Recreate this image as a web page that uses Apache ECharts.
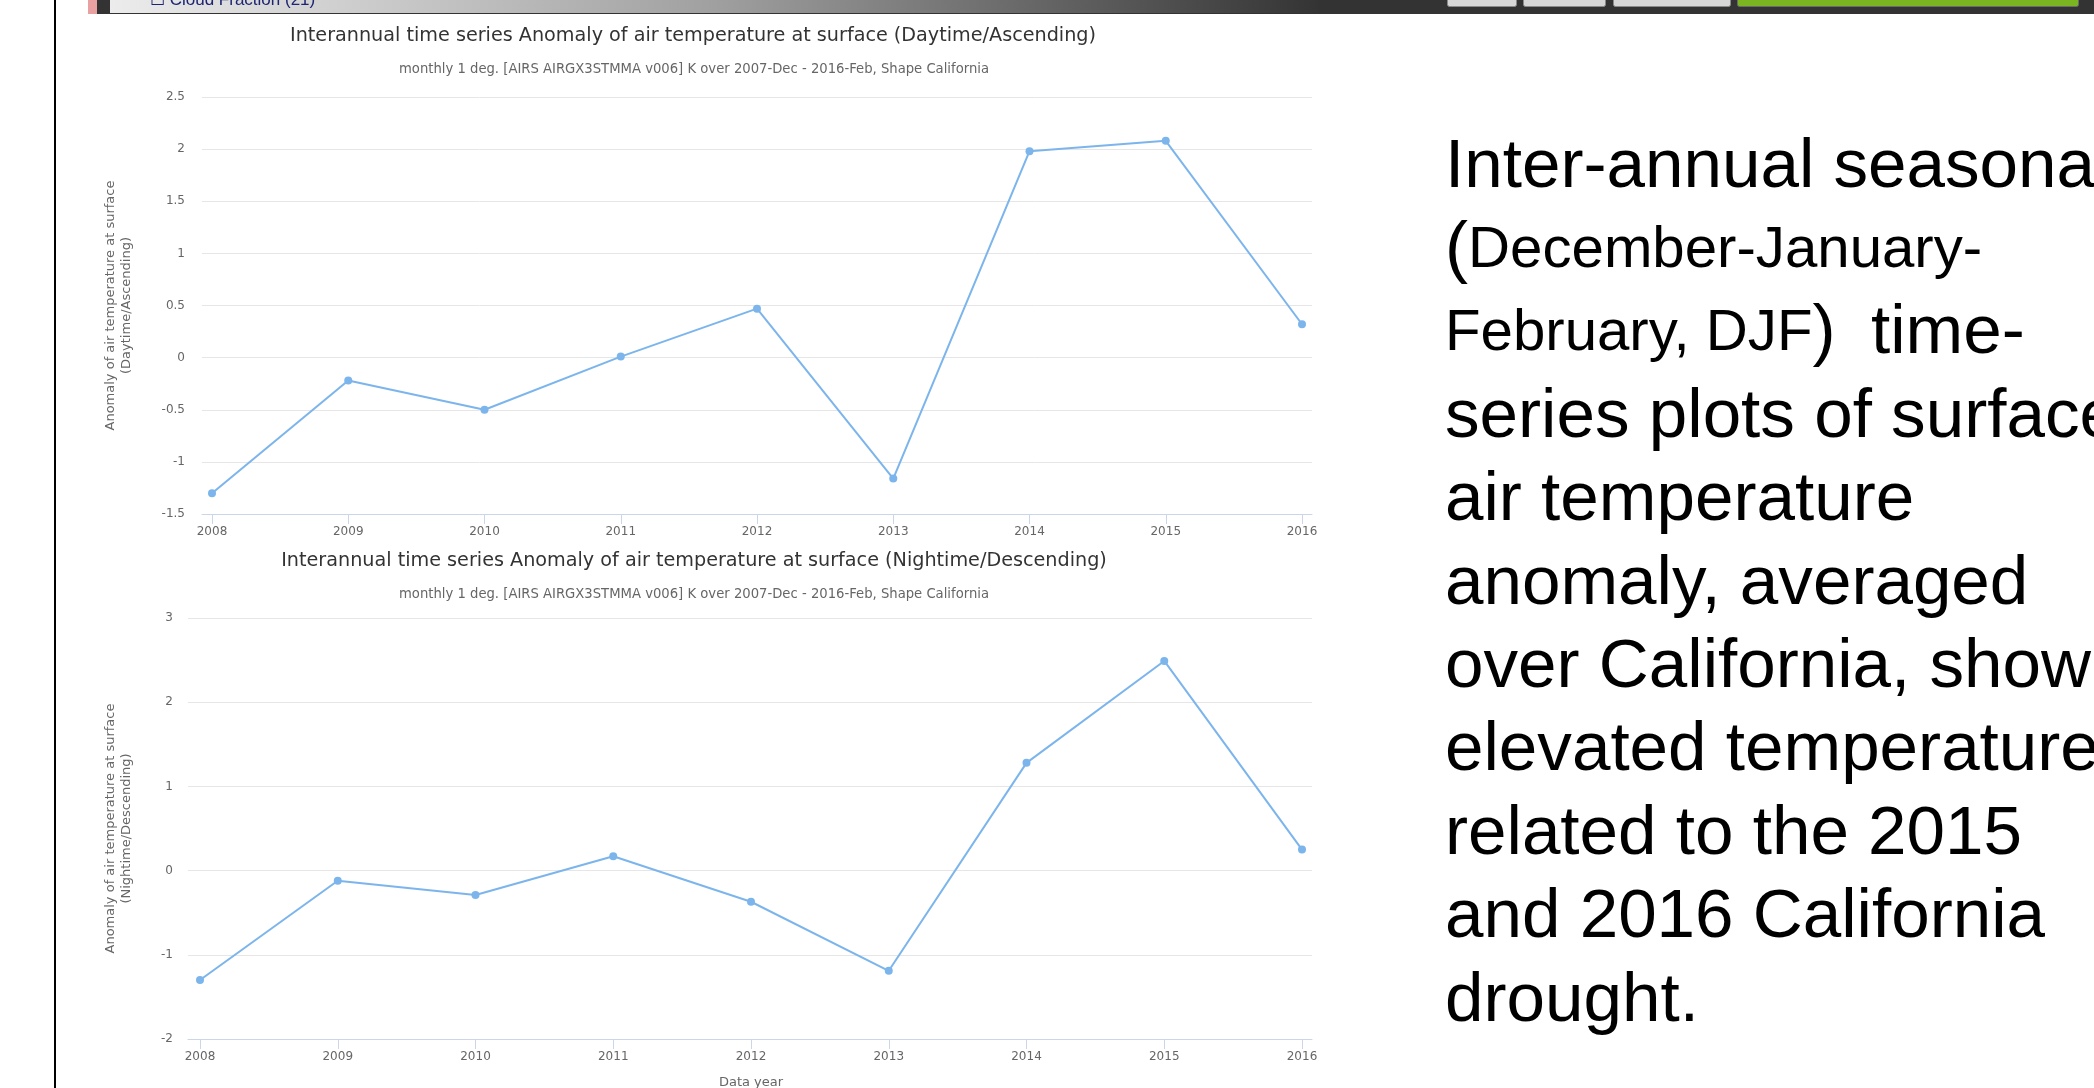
<!DOCTYPE html>
<html>
<head>
<meta charset="utf-8">
<script src="https://cdn.jsdelivr.net/npm/echarts@6/dist/echarts.min.js"></script>
<style>
html,body{margin:0;padding:0;background:#fff;}
#chart{width:2094px;height:1088px;}
</style>
</head>
<body>
<div id="chart"></div>
<script>
// ---- data ----
const years = ['2008','2009','2010','2011','2012','2013','2014','2015','2016'];
const dayAnomaly = [-1.30, -0.22, -0.50, 0.01, 0.47, -1.16, 1.98, 2.08, 0.32];
const nightAnomaly = [-1.30, -0.12, -0.29, 0.17, -0.37, -1.19, 1.28, 2.49, 0.25];
const dayTitle = 'Interannual time series Anomaly of air temperature at surface (Daytime/Ascending)';
const nightTitle = 'Interannual time series Anomaly of air temperature at surface (Nightime/Descending)';
const subTitle = 'monthly 1 deg. [AIRS AIRGX3STMMA v006] K over 2007-Dec - 2016-Feb, Shape California';
const dayAxisName = 'Anomaly of air temperature at surface\n(Daytime/Ascending)';
const nightAxisName = 'Anomaly of air temperature at surface\n(Nightime/Descending)';
const xAxisName = 'Data year';
const headerLabel = '\u2610 Cloud Fraction (21)';
const captionLines = [
  '{b|Inter-annual seasonal}',
  '{b|(}{s|December-January-}',
  '{s|February, DJF}{b|) }{s| }{b|time-}',
  '{b|series plots of surface}',
  '{b|air temperature}',
  '{b|anomaly, averaged}',
  '{b|over California, showing}',
  '{b|elevated temperatures}',
  '{b|related to the 2015}',
  '{b|and 2016 California}',
  '{b|drought.}'
];

const FONT = '"DejaVu Sans", "Lucida Grande", Arial, sans-serif';
const LINE = '#7cb5ec';
const GRIDC = '#e6e6e6';
const AXISC = '#ccd6eb';
const LABC = '#666666';

function bgX(gi){
  return {type:'value', gridIndex:gi, min:0, max:1, show:true,
    axisLine:{show:true, onZero:false, lineStyle:{color:AXISC, width:1}},
    axisTick:{show:false}, axisLabel:{show:false}, splitLine:{show:false}};
}
function mainX(gi, name){
  return {type:'category', gridIndex:gi, data:years, boundaryGap:false,
    axisLine:{show:false, onZero:false},
    axisTick:{show:true, length:10, lineStyle:{color:AXISC}},
    axisLabel:{color:LABC, fontSize:12, fontFamily:FONT, margin:12},
    splitLine:{show:false},
    name:name||'', nameLocation:'middle', nameGap:37,
    nameTextStyle:{color:LABC, fontSize:13, fontFamily:FONT}};
}
function bgY(gi, min, max, interval, name, margin, gap){
  return {type:'value', gridIndex:gi, min:min, max:max, interval:interval,
    axisLine:{show:false}, axisTick:{show:false},
    axisLabel:{color:LABC, fontSize:12, fontFamily:FONT, margin:margin},
    splitLine:{show:true, lineStyle:{color:GRIDC, width:1}},
    name:name, nameLocation:'middle', nameGap:gap, nameRotate:90,
    nameTextStyle:{color:LABC, fontSize:13, fontFamily:FONT, lineHeight:16}};
}
function mainY(gi, min, max, interval){
  return {type:'value', gridIndex:gi, min:min, max:max, interval:interval, show:false,
    splitLine:{show:false}};
}
function lineSeries(xi, data){
  return {type:'line', xAxisIndex:xi, yAxisIndex:xi, data:data,
    symbol:'circle', symbolSize:8, showSymbol:true,
    lineStyle:{color:LINE, width:2}, itemStyle:{color:LINE}, z:5};
}
function gridBox(l, t, w, h){
  return {left:l, top:t, width:w, height:h, containLabel:false, outerBoundsMode:'none'};
}

const chart = echarts.init(document.getElementById('chart'), null, {renderer:'canvas'});
const option = {
  animation:false,
  backgroundColor:'#ffffff',
  title:[
    {text:dayTitle, left:688, top:22, textAlign:'center', textStyle:{fontFamily:FONT, fontSize:19.2, fontWeight:'normal', color:'#333333'}},
    {text:subTitle, left:689, top:58, textAlign:'center', textStyle:{fontFamily:FONT, fontSize:13.2, fontWeight:'normal', color:'#666666'}},
    {text:nightTitle, left:689, top:547, textAlign:'center', textStyle:{fontFamily:FONT, fontSize:19.2, fontWeight:'normal', color:'#333333'}},
    {text:subTitle, left:689, top:583, textAlign:'center', textStyle:{fontFamily:FONT, fontSize:13.2, fontWeight:'normal', color:'#666666'}}
  ],
  grid:[
    gridBox(202, 97, 1110, 417),
    gridBox(212, 97, 1090, 417),
    gridBox(188, 618, 1124, 421),
    gridBox(200, 618, 1102, 421)
  ],
  xAxis:[bgX(0), mainX(1), bgX(2), mainX(3, xAxisName)],
  yAxis:[
    bgY(0, -1.5, 2.5, 0.5, dayAxisName, 17, 67),
    mainY(1, -1.5, 2.5, 0.5),
    bgY(2, -2, 3, 1, nightAxisName, 15, 53),
    mainY(3, -2, 3, 1)
  ],
  series:[lineSeries(1, dayAnomaly), lineSeries(3, nightAnomaly)],
  graphic:[
    // left border line
    {type:'rect', left:54, top:0, shape:{width:2, height:1088}, style:{fill:'#000'}, z:10},
    // header bar
    {type:'rect', left:88, top:0, shape:{width:2006, height:14}, style:{fill:'#333333'}, z:10},
    {type:'rect', left:110, top:0, shape:{width:1208, height:13},
      style:{fill:new echarts.graphic.LinearGradient(0,0,1,0,[{offset:0,color:'#ececec'},{offset:0.5,color:'#a0a0a0'},{offset:1,color:'#343434'}])}, z:11},
    {type:'rect', left:88, top:0, shape:{width:9, height:14}, style:{fill:'#e9a0a0'}, z:11},
    {type:'text', left:150, top:-8, style:{text:headerLabel, fill:'#1d2472', font:'17px "Liberation Sans", Arial, sans-serif'}, z:12},
    // buttons
    {type:'rect', left:1447, top:-4, shape:{width:69, height:10, r:2}, style:{fill:'#d7d7d8', stroke:'#8a8a8a', lineWidth:1}, z:12},
    {type:'rect', left:1523, top:-4, shape:{width:82, height:10, r:2}, style:{fill:'#d7d7d8', stroke:'#8a8a8a', lineWidth:1}, z:12},
    {type:'rect', left:1613, top:-4, shape:{width:117, height:10, r:2}, style:{fill:'#d7d7d8', stroke:'#8a8a8a', lineWidth:1}, z:12},
    {type:'rect', left:1737, top:-4, shape:{width:341, height:10, r:2}, style:{fill:'#7ab421', stroke:'#6a6a6a', lineWidth:1}, z:12},
    // caption text
    {type:'text', left:1445, top:133, z:12,
      style:{text:captionLines.join('\n'), fill:'#000',
        rich:{
          b:{fontSize:69.2, fontFamily:'"Liberation Sans", Arial, sans-serif', lineHeight:83.4, fill:'#000'},
          s:{fontSize:58.2, fontFamily:'"Liberation Sans", Arial, sans-serif', lineHeight:83.4, fill:'#000'}
        }}}
  ]
};
chart.setOption(option);
</script>
</body>
</html>
